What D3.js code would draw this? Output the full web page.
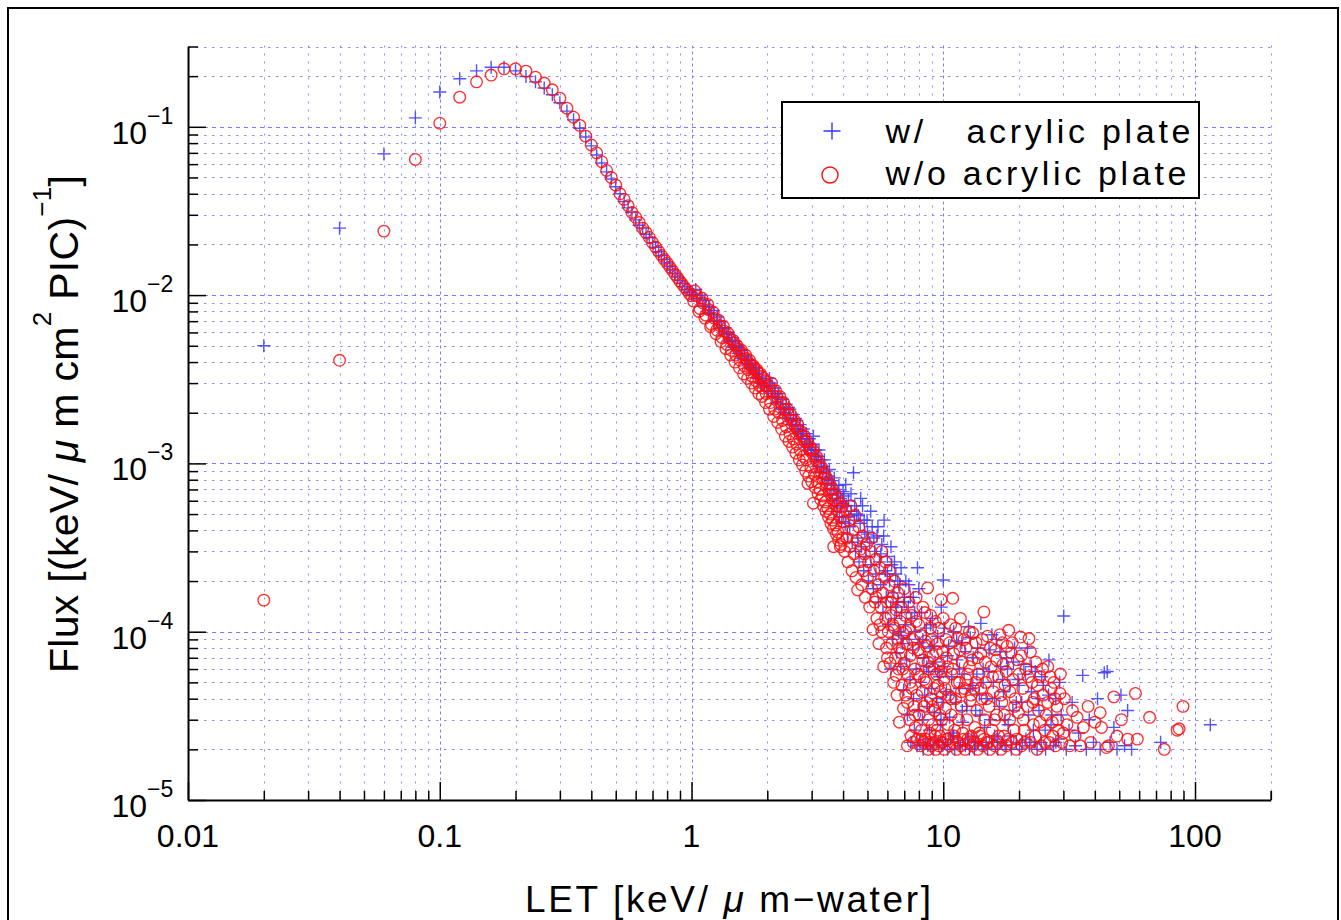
<!DOCTYPE html>
<html>
<head>
<meta charset="utf-8">
<script src="https://cdnjs.cloudflare.com/ajax/libs/d3/7.8.5/d3.min.js"></script>
<style>
    body { margin: 0; background: #fff; }
    svg { display: block; }
    text { font-family: "Liberation Sans", Arial, sans-serif; fill: #000; }
</style>
</head>
<body>
<div id="chart"></div>
<script>
// LET [keV/um-water], flux pairs

// w/ acrylic plate (blue +)
const blueRise = [
    [0.02, 5.0e-3], [0.04, 0.025], [0.06, 0.069], [0.08, 0.113], [0.10, 0.161],
    [0.12, 0.193], [0.14, 0.215], [0.16, 0.226], [0.18, 0.226], [0.20, 0.215],
    [0.22, 0.199], [0.24, 0.185], [0.26, 0.170], [0.28, 0.155], [0.30, 0.139],
    [0.32, 0.124], [0.34, 0.110], [0.36, 0.098], [0.38, 0.087], [0.40, 0.077],
    [0.42, 0.068], [0.44, 0.061], [0.46, 0.054], [0.48, 0.049], [0.50, 0.044],
    [0.52, 0.040], [0.54, 0.036], [0.56, 0.033], [0.58, 0.031], [0.60, 0.028],
    [0.62, 0.026], [0.64, 0.025], [0.66, 0.023], [0.68, 0.022], [0.70, 0.0205],
    [0.72, 0.0192], [0.74, 0.0181], [0.76, 0.0172], [0.78, 0.0163], [0.80, 0.0155],
    [0.82, 0.0148], [0.84, 0.0141], [0.86, 0.0134], [0.88, 0.0128], [0.90, 0.0122],
    [0.92, 0.0117], [0.94, 0.0112], [0.96, 0.0108], [0.98, 0.0104], [1.00, 0.0100]
];

const blueBand = [
    [1.02, 1.01e-2], [1.05, 9.6e-3], [1.08, 9.5e-3], [1.11, 8.6e-3], [1.14, 8.6e-3],
    [1.17, 7.8e-3], [1.20, 7.7e-3], [1.23, 7.0e-3], [1.26, 7.0e-3], [1.29, 6.3e-3],
    [1.32, 6.4e-3], [1.35, 5.8e-3], [1.38, 5.9e-3], [1.41, 5.3e-3], [1.44, 5.4e-3],
    [1.47, 4.9e-3], [1.50, 5.0e-3], [1.53, 4.5e-3], [1.56, 4.7e-3], [1.59, 4.2e-3],
    [1.62, 4.4e-3], [1.65, 3.9e-3], [1.68, 4.1e-3], [1.71, 3.7e-3], [1.74, 3.9e-3],
    [1.77, 3.4e-3], [1.80, 3.7e-3], [1.83, 3.2e-3], [1.86, 3.5e-3], [1.89, 3.0e-3],
    [1.92, 3.3e-3], [1.95, 2.9e-3], [1.98, 3.1e-3],
    [2.02, 2.7e-3], [2.06, 3.0e-3], [2.10, 2.5e-3], [2.14, 2.8e-3], [2.18, 2.3e-3],
    [2.22, 2.6e-3], [2.26, 2.1e-3], [2.30, 2.4e-3], [2.34, 2.0e-3], [2.38, 2.25e-3],
    [2.42, 1.85e-3], [2.46, 2.1e-3], [2.50, 1.7e-3], [2.54, 1.95e-3], [2.58, 1.6e-3],
    [2.62, 1.8e-3], [2.66, 1.5e-3], [2.70, 1.7e-3], [2.74, 1.4e-3], [2.78, 1.6e-3],
    [2.82, 1.3e-3], [2.86, 1.5e-3], [2.90, 1.2e-3], [2.94, 1.4e-3], [2.98, 1.15e-3],
    [3.03, 1.3e-3], [3.07, 1.05e-3], [3.11, 1.2e-3], [3.15, 9.6e-4], [3.19, 1.1e-3],
    [3.23, 8.8e-4], [3.27, 1.05e-3], [3.31, 8.2e-4], [3.35, 9.6e-4], [3.39, 7.6e-4],
    [3.43, 9.0e-4], [3.47, 7.0e-4], [3.51, 8.4e-4], [3.55, 6.5e-4], [3.59, 7.9e-4],
    [3.63, 6.0e-4], [3.67, 7.4e-4], [3.71, 5.6e-4], [3.75, 7.0e-4], [3.79, 5.2e-4],
    [3.83, 6.6e-4], [3.87, 4.8e-4], [3.91, 6.2e-4], [3.95, 4.5e-4], [3.99, 5.8e-4],
    [4.03, 6.4e-4], [4.08, 4.4e-4], [4.12, 5.6e-4], [4.16, 3.8e-4], [4.20, 6.0e-4],
    [4.25, 4.2e-4], [4.30, 5.2e-4], [4.35, 3.4e-4], [4.40, 8.8e-4], [4.44, 4.6e-4],
    [4.48, 3.0e-4], [4.53, 5.0e-4], [4.58, 3.6e-4], [4.63, 2.6e-4], [4.68, 4.4e-4],
    [4.73, 3.2e-4], [4.78, 5.6e-4], [4.83, 2.3e-4], [4.88, 3.9e-4], [4.93, 2.8e-4],
    [4.98, 4.6e-4], [5.04, 2.0e-4], [5.10, 3.4e-4], [5.16, 2.5e-4], [5.22, 4.2e-4],
    [5.28, 1.8e-4], [5.34, 3.0e-4], [5.40, 2.2e-4], [5.46, 3.7e-4], [5.52, 1.5e-4],
    [5.58, 2.6e-4], [5.64, 1.9e-4], [5.70, 3.3e-4], [5.76, 1.3e-4], [5.82, 4.6e-4],
    [5.88, 2.3e-4], [5.94, 1.6e-4], [6.00, 2.8e-4], [6.06, 1.1e-4], [6.12, 2.0e-4],
    [6.18, 1.4e-4], [6.24, 2.5e-4], [6.30, 9.0e-5], [6.36, 1.7e-4], [6.42, 1.2e-4],
    [6.48, 2.2e-4], [6.54, 7.5e-5], [6.60, 1.5e-4], [6.66, 1.0e-4], [6.72, 1.9e-4],
    [6.78, 6.2e-5], [6.84, 1.3e-4], [6.90, 8.5e-5], [6.96, 4.5e-5], [7.02, 1.6e-4],
    [7.08, 1.1e-4], [7.14, 6.8e-5], [7.20, 3.2e-5], [7.26, 1.4e-4], [7.32, 9.0e-5],
    [7.38, 5.2e-5], [7.44, 2.2e-5], [7.50, 1.2e-4], [7.56, 7.8e-5], [7.62, 4.0e-5],
    [7.68, 2.6e-5], [7.74, 1.0e-4], [7.80, 6.0e-5], [7.86, 2.1e-5], [7.90, 2.4e-4],
    [7.95, 3.4e-5]
];

// upper side of the blue band, where the + marks stick out
const blueBandEdge = [
    [1.04, 1.08e-2], [1.09, 1.0e-2], [1.13, 9.3e-3], [1.18, 8.5e-3], [1.22, 8.1e-3],
    [1.27, 7.4e-3], [1.31, 7.0e-3], [1.36, 6.4e-3], [1.40, 6.0e-3], [1.45, 5.6e-3],
    [1.49, 5.3e-3], [1.54, 4.9e-3], [1.58, 4.7e-3], [1.63, 4.3e-3], [1.67, 4.1e-3],
    [1.72, 3.8e-3], [1.76, 3.6e-3], [1.81, 3.4e-3], [1.85, 3.2e-3], [1.90, 3.0e-3],
    [1.94, 2.85e-3], [1.99, 2.7e-3], [2.04, 3.2e-3], [2.09, 2.9e-3], [2.15, 2.6e-3],
    [2.20, 2.45e-3], [2.26, 2.25e-3], [2.31, 2.1e-3], [2.37, 1.95e-3], [2.43, 2.15e-3],
    [2.48, 1.8e-3], [2.53, 1.7e-3], [2.59, 1.85e-3], [2.65, 1.55e-3], [2.71, 1.45e-3],
    [2.76, 1.55e-3], [2.81, 1.25e-3], [2.87, 1.4e-3], [2.93, 1.3e-3], [2.99, 1.25e-3],
    [3.05, 1.45e-3], [3.13, 1.1e-3], [3.21, 1.2e-3], [3.29, 9.5e-4], [3.37, 1.05e-3],
    [3.45, 8.0e-4], [3.53, 9.2e-4], [3.61, 7.0e-4], [3.69, 8.2e-4], [3.77, 6.2e-4],
    [3.85, 7.4e-4], [3.93, 5.5e-4], [4.00, 6.8e-4], [4.10, 7.5e-4], [4.20, 4.8e-4],
    [4.30, 6.6e-4], [4.45, 5.6e-4], [4.60, 4.9e-4], [4.70, 6.2e-4], [4.85, 4.6e-4],
    [5.00, 3.8e-4], [5.15, 5.2e-4], [5.30, 3.6e-4], [5.50, 4.2e-4], [5.65, 2.9e-4],
    [5.80, 3.7e-4], [6.00, 2.2e-4], [6.20, 3.2e-4], [6.40, 2.6e-4], [6.60, 2.0e-4],
    [6.80, 2.4e-4], [7.00, 1.5e-4], [7.30, 1.9e-4], [7.60, 1.6e-4]
];

const blueTail = [
    [8.02, 8.6e-5], [8.08, 2.2e-5], [8.14, 5.0e-5], [8.20, 1.3e-4], [8.26, 3.0e-5],
    [8.32, 2.0e-5], [8.38, 7.0e-5], [8.44, 4.2e-5], [8.50, 2.3e-5], [8.56, 1.05e-4],
    [8.62, 3.6e-5], [8.68, 2.1e-5], [8.74, 5.8e-5], [8.80, 2.6e-5], [8.86, 8.0e-5],
    [8.92, 2.1e-5], [8.98, 4.6e-5], [9.05, 1.2e-4], [9.12, 2.0e-5], [9.20, 3.3e-5],
    [9.28, 6.6e-5], [9.35, 2.3e-5], [9.42, 4.0e-5], [9.50, 9.4e-5], [9.58, 2.2e-5],
    [9.66, 5.4e-5], [9.74, 2.8e-5], [9.82, 1.4e-4], [9.90, 3.8e-5], [9.96, 2.1e-5],
    [10.0, 2.03e-4], [10.1, 6.2e-5], [10.2, 2.2e-5], [10.3, 4.4e-5], [10.4, 2.0e-5],
    [10.5, 8.2e-5], [10.6, 3.1e-5], [10.7, 2.3e-5], [10.8, 5.4e-5], [10.9, 2.5e-5],
    [11.0, 1.0e-4], [11.1, 2.0e-5], [11.2, 3.8e-5], [11.35, 6.8e-5], [11.45, 2.2e-5],
    [11.6, 4.6e-5], [11.7, 2.1e-5], [11.85, 8.6e-5], [11.95, 2.9e-5], [12.1, 5.6e-5],
    [12.25, 2.1e-5], [12.4, 3.6e-5], [12.6, 1.07e-4], [12.7, 2.0e-5], [12.85, 4.6e-5],
    [13.0, 2.4e-5], [13.15, 7.0e-5], [13.3, 2.0e-5], [13.45, 3.4e-5], [13.6, 5.6e-5],
    [13.75, 2.2e-5], [13.9, 4.2e-5], [14.1, 1.12e-4], [14.25, 2.1e-5], [14.4, 6.0e-5],
    [14.6, 2.7e-5], [14.8, 4.0e-5], [15.0, 2.0e-5], [15.2, 7.8e-5], [15.4, 3.0e-5],
    [15.6, 2.2e-5], [15.8, 5.0e-5], [16.0, 2.4e-5], [16.25, 9.0e-5], [16.45, 2.0e-5],
    [16.7, 3.6e-5], [16.9, 6.2e-5], [17.1, 2.2e-5], [17.35, 4.4e-5], [17.6, 2.1e-5],
    [17.85, 7.0e-5], [18.1, 2.8e-5], [18.4, 4.8e-5], [18.65, 2.0e-5], [18.9, 3.4e-5],
    [19.2, 8.0e-5], [19.5, 2.2e-5], [19.8, 5.2e-5], [20.1, 2.0e-5], [20.5, 3.8e-5],
    [20.9, 6.4e-5], [21.3, 2.3e-5], [21.6, 8.0e-5], [22.0, 2.1e-5], [22.4, 4.4e-5],
    [22.8, 2.6e-5], [23.2, 5.8e-5], [23.6, 2.0e-5], [24.0, 3.4e-5], [24.5, 2.2e-5],
    [25.0, 4.8e-5], [25.5, 2.0e-5], [26.3, 6.8e-5], [26.8, 2.8e-5], [27.4, 2.1e-5],
    [28.0, 4.0e-5], [28.7, 2.3e-5], [29.4, 3.2e-5], [30.1, 1.24e-4], [30.8, 2.0e-5],
    [31.6, 2.6e-5], [32.5, 3.8e-5], [33.5, 2.1e-5], [34.5, 2.5e-5], [35.8, 5.5e-5],
    [37.0, 2.0e-5], [38.0, 3.0e-5], [39.5, 2.2e-5], [41.0, 4.0e-5], [42.0, 2.0e-5],
    [43.6, 5.7e-5], [44.8, 5.8e-5], [46.0, 2.2e-5], [47.6, 2.7e-5], [49.0, 2.0e-5],
    [50.8, 4.2e-5], [52.5, 2.1e-5], [54.0, 3.4e-5], [56.0, 2.0e-5], [73.0, 2.2e-5],
    [115.0, 2.8e-5]
];

// extra blue marks filling the cloud at 6-30
const blueCloud = [
    [6.2, 6.0e-5], [6.5, 1.4e-4], [6.8, 9.5e-5], [7.1, 2.0e-4], [7.4, 1.6e-4],
    [7.7, 1.3e-4], [8.0, 1.8e-4], [8.3, 9.0e-5], [8.6, 6.2e-5], [8.9, 1.1e-4],
    [9.2, 8.2e-5], [9.5, 5.8e-5], [9.8, 3.0e-5], [10.1, 1.05e-4], [10.4, 7.2e-5],
    [10.7, 4.2e-5], [11.0, 2.4e-5], [11.3, 8.8e-5], [11.6, 6.0e-5], [11.9, 3.4e-5],
    [12.2, 7.6e-5], [12.5, 2.3e-5], [12.8, 9.2e-5], [13.1, 4.8e-5], [13.4, 2.2e-5],
    [13.7, 8.0e-5], [14.0, 3.2e-5], [14.4, 5.0e-5], [14.8, 2.2e-5], [15.2, 5.8e-5],
    [15.6, 9.6e-5], [16.0, 4.0e-5], [16.4, 2.3e-5], [16.8, 7.6e-5], [17.2, 5.2e-5],
    [17.6, 3.0e-5], [18.0, 6.0e-5], [18.5, 2.4e-5], [19.0, 6.6e-5], [19.5, 3.8e-5],
    [20.0, 4.8e-5], [20.6, 2.2e-5], [21.2, 5.6e-5], [21.8, 3.2e-5], [22.4, 6.2e-5],
    [23.0, 2.2e-5], [23.8, 4.0e-5], [24.6, 5.4e-5], [25.4, 2.6e-5], [26.2, 4.2e-5],
    [27.0, 3.2e-5], [28.0, 2.2e-5], [29.0, 5.0e-5]
];

// w/o acrylic plate (red o)
const redRise = [
    [0.02, 1.54e-4], [0.04, 4.1e-3], [0.06, 0.024], [0.08, 0.064], [0.10, 0.105],
    [0.12, 0.150], [0.14, 0.185], [0.16, 0.203], [0.18, 0.221], [0.20, 0.221],
    [0.22, 0.214], [0.24, 0.197], [0.26, 0.182], [0.28, 0.166], [0.30, 0.148],
    [0.32, 0.129], [0.34, 0.114], [0.36, 0.102], [0.38, 0.088], [0.40, 0.078],
    [0.42, 0.070], [0.44, 0.062], [0.46, 0.055], [0.48, 0.050], [0.50, 0.045],
    [0.52, 0.040], [0.54, 0.037], [0.56, 0.034], [0.58, 0.031], [0.60, 0.029],
    [0.62, 0.027], [0.64, 0.025], [0.66, 0.0235], [0.68, 0.022], [0.70, 0.0205],
    [0.72, 0.0193], [0.74, 0.0182], [0.76, 0.0172], [0.78, 0.0163], [0.80, 0.0155],
    [0.82, 0.0147], [0.84, 0.0140], [0.86, 0.0133], [0.88, 0.0127], [0.90, 0.0121],
    [0.92, 0.0116], [0.94, 0.0111], [0.96, 0.0107], [0.98, 0.0102], [1.00, 0.0099]
];

const redBand = [
    [1.02, 9.2e-3], [1.05, 9.9e-3], [1.08, 8.3e-3], [1.11, 9.0e-3], [1.14, 7.6e-3],
    [1.17, 8.2e-3], [1.20, 6.7e-3], [1.23, 7.3e-3], [1.26, 6.2e-3], [1.29, 6.6e-3],
    [1.32, 5.6e-3], [1.35, 6.1e-3], [1.38, 5.1e-3], [1.41, 5.6e-3], [1.44, 4.7e-3],
    [1.47, 5.2e-3], [1.50, 4.4e-3], [1.53, 4.8e-3], [1.56, 4.1e-3], [1.59, 4.5e-3],
    [1.62, 3.8e-3], [1.65, 4.2e-3], [1.68, 3.6e-3], [1.71, 3.9e-3], [1.74, 3.3e-3],
    [1.77, 3.7e-3], [1.80, 3.1e-3], [1.83, 3.5e-3], [1.86, 2.9e-3], [1.89, 3.3e-3],
    [1.92, 2.8e-3], [1.95, 3.1e-3], [1.98, 2.6e-3],
    [2.02, 2.9e-3], [2.06, 2.3e-3], [2.10, 2.7e-3], [2.14, 2.1e-3], [2.18, 2.5e-3],
    [2.22, 2.0e-3], [2.26, 2.3e-3], [2.30, 1.8e-3], [2.34, 2.1e-3], [2.38, 1.65e-3],
    [2.42, 1.95e-3], [2.46, 1.5e-3], [2.50, 1.8e-3], [2.54, 1.4e-3], [2.58, 1.65e-3],
    [2.62, 1.3e-3], [2.66, 1.55e-3], [2.70, 1.2e-3], [2.74, 1.45e-3], [2.78, 1.1e-3],
    [2.82, 1.35e-3], [2.86, 1.05e-3], [2.90, 7.6e-4], [2.94, 1.2e-3], [2.98, 9.5e-4],
    [3.02, 1.15e-3], [3.05, 5.8e-4], [3.08, 8.6e-4], [3.12, 1.05e-3], [3.16, 7.8e-4],
    [3.20, 9.6e-4], [3.24, 7.0e-4], [3.28, 8.8e-4], [3.32, 6.4e-4], [3.36, 8.2e-4],
    [3.40, 5.9e-4], [3.44, 7.6e-4], [3.48, 5.4e-4], [3.52, 7.0e-4], [3.56, 5.0e-4],
    [3.60, 6.5e-4], [3.64, 4.6e-4], [3.67, 3.2e-4], [3.70, 6.0e-4], [3.74, 4.3e-4],
    [3.78, 5.6e-4], [3.82, 3.9e-4], [3.86, 5.2e-4], [3.90, 3.2e-4], [3.94, 4.8e-4],
    [3.98, 3.6e-4],
    [4.02, 4.5e-4], [4.06, 3.0e-4], [4.10, 5.3e-4], [4.14, 3.6e-4], [4.18, 2.6e-4],
    [4.22, 4.6e-4], [4.26, 3.2e-4], [4.30, 5.6e-4], [4.34, 2.3e-4], [4.38, 4.0e-4],
    [4.42, 2.9e-4], [4.46, 4.9e-4], [4.50, 2.1e-4], [4.54, 3.5e-4], [4.57, 1.77e-4],
    [4.62, 4.2e-4], [4.66, 2.6e-4], [4.70, 3.1e-4], [4.74, 1.9e-4], [4.78, 3.7e-4],
    [4.82, 2.3e-4], [4.86, 2.9e-4], [4.90, 1.6e-4], [4.95, 3.3e-4], [5.00, 2.1e-4],
    [5.05, 2.6e-4], [5.10, 1.4e-4], [5.15, 3.0e-4], [5.20, 1.8e-4], [5.26, 1.03e-4],
    [5.30, 2.3e-4], [5.35, 1.5e-4], [5.40, 2.7e-4], [5.45, 1.2e-4], [5.50, 1.9e-4],
    [5.55, 8.5e-5], [5.60, 2.4e-4], [5.65, 1.4e-4], [5.70, 1.0e-4], [5.75, 1.7e-4],
    [5.80, 6.2e-5], [5.85, 2.1e-4], [5.90, 1.2e-4], [5.95, 8.0e-5], [6.00, 1.5e-4],
    [6.05, 1.0e-4], [6.10, 1.9e-4], [6.15, 6.5e-5], [6.20, 1.25e-4], [6.25, 8.5e-5],
    [6.30, 1.6e-4], [6.35, 5.0e-5], [6.40, 1.05e-4], [6.45, 7.0e-5], [6.50, 1.35e-4],
    [6.55, 4.2e-5], [6.60, 9.0e-5], [6.65, 6.0e-5], [6.70, 2.9e-5], [6.75, 1.15e-4],
    [6.80, 7.5e-5], [6.85, 4.8e-5], [6.90, 9.8e-5], [6.95, 3.5e-5], [7.00, 6.5e-5],
    [7.05, 1.25e-4], [7.10, 4.2e-5], [7.15, 8.5e-5], [7.20, 2.1e-5], [7.25, 5.5e-5],
    [7.30, 1.05e-4], [7.35, 3.0e-5], [7.40, 7.2e-5], [7.45, 2.4e-5], [7.50, 4.6e-5],
    [7.55, 9.0e-5], [7.60, 2.2e-5], [7.65, 3.6e-5], [7.70, 6.0e-5], [7.75, 2.7e-5],
    [7.80, 1.15e-4], [7.85, 4.2e-5], [7.90, 2.3e-5], [7.95, 7.8e-5]
];

// second row of red circles widening the band at 1-4
const redBandSpread = [
    [1.03, 1.06e-2], [1.07, 8.0e-3], [1.10, 9.6e-3], [1.13, 7.3e-3], [1.16, 8.8e-3],
    [1.19, 6.5e-3], [1.22, 7.9e-3], [1.25, 5.9e-3], [1.28, 7.1e-3], [1.31, 5.3e-3],
    [1.34, 6.5e-3], [1.37, 4.8e-3], [1.40, 5.9e-3], [1.43, 4.4e-3], [1.46, 5.4e-3],
    [1.49, 4.0e-3], [1.52, 5.0e-3], [1.55, 3.7e-3], [1.58, 4.7e-3], [1.61, 3.4e-3],
    [1.64, 4.4e-3], [1.67, 3.2e-3], [1.70, 4.1e-3], [1.73, 3.0e-3], [1.76, 3.8e-3],
    [1.79, 2.8e-3], [1.82, 3.6e-3], [1.85, 2.6e-3], [1.88, 3.4e-3], [1.91, 2.5e-3],
    [1.94, 3.2e-3], [1.97, 2.3e-3], [2.04, 2.1e-3], [2.08, 3.0e-3], [2.12, 1.9e-3],
    [2.16, 2.7e-3], [2.20, 1.75e-3], [2.24, 2.5e-3], [2.28, 1.6e-3], [2.32, 2.3e-3],
    [2.36, 1.45e-3], [2.40, 2.1e-3], [2.44, 1.35e-3], [2.48, 1.95e-3], [2.52, 1.25e-3],
    [2.56, 1.8e-3], [2.60, 1.15e-3], [2.64, 1.7e-3], [2.68, 1.05e-3], [2.72, 1.55e-3],
    [2.76, 9.8e-4], [2.80, 1.45e-3], [2.84, 9.0e-4], [2.88, 1.35e-3], [2.92, 8.4e-4],
    [2.96, 1.25e-3], [3.00, 7.8e-4], [3.04, 1.2e-3], [3.10, 7.2e-4], [3.14, 1.1e-3],
    [3.18, 6.6e-4], [3.22, 1.0e-3], [3.26, 6.1e-4], [3.30, 9.4e-4], [3.34, 5.6e-4],
    [3.38, 8.7e-4], [3.42, 5.2e-4], [3.46, 8.1e-4], [3.50, 4.8e-4], [3.54, 7.6e-4],
    [3.58, 4.4e-4], [3.62, 7.1e-4], [3.66, 4.1e-4], [3.72, 6.6e-4], [3.76, 3.8e-4],
    [3.80, 6.2e-4], [3.84, 3.5e-4], [3.88, 5.8e-4], [3.92, 3.3e-4], [3.96, 5.5e-4]
];

const redTail = [
    [8.02, 3.2e-5], [8.06, 5.4e-5], [8.10, 2.1e-5], [8.15, 9.5e-5], [8.20, 2.6e-5],
    [8.25, 4.4e-5], [8.30, 6.8e-5], [8.35, 2.2e-5], [8.40, 3.6e-5], [8.45, 1.3e-4],
    [8.50, 2.3e-5], [8.55, 5.0e-5], [8.60, 8.2e-5], [8.67, 1.82e-4], [8.70, 2.0e-5],
    [8.75, 3.0e-5], [8.80, 6.0e-5], [8.85, 2.5e-5], [8.90, 1.05e-4], [8.95, 4.0e-5],
    [9.00, 2.1e-5], [9.05, 2.8e-5], [9.10, 7.2e-5], [9.15, 2.2e-5], [9.20, 4.6e-5],
    [9.25, 3.4e-5], [9.30, 1.15e-4], [9.35, 2.0e-5], [9.40, 5.6e-5], [9.45, 2.6e-5],
    [9.50, 8.5e-5], [9.55, 3.8e-5], [9.60, 2.1e-5], [9.65, 6.4e-5], [9.70, 2.4e-5],
    [9.75, 4.4e-5], [9.80, 1.55e-4], [9.85, 3.0e-5], [9.90, 2.2e-5], [9.95, 7.6e-5],
    [10.05, 5.2e-5], [10.1, 2.0e-5], [10.2, 3.5e-5], [10.25, 9.0e-5], [10.3, 2.3e-5],
    [10.4, 6.2e-5], [10.45, 2.8e-5], [10.5, 4.2e-5], [10.6, 2.1e-5], [10.7, 1.1e-4],
    [10.75, 3.2e-5], [10.8, 5.6e-5], [10.9, 1.58e-4], [10.95, 2.2e-5], [11.0, 7.4e-5],
    [11.1, 2.6e-5], [11.2, 4.0e-5], [11.3, 2.0e-5], [11.4, 9.2e-5], [11.5, 3.0e-5],
    [11.6, 5.0e-5], [11.7, 1.2e-4], [11.75, 2.1e-5], [11.8, 3.6e-5], [11.9, 6.6e-5],
    [12.0, 2.3e-5], [12.1, 4.6e-5], [12.2, 2.0e-5], [12.3, 8.0e-5], [12.4, 3.0e-5],
    [12.5, 5.6e-5], [12.6, 2.2e-5], [12.7, 1.0e-4], [12.8, 3.9e-5], [12.9, 2.4e-5],
    [13.0, 6.8e-5], [13.1, 2.1e-5], [13.2, 4.6e-5], [13.35, 2.7e-5], [13.5, 8.6e-5],
    [13.6, 3.4e-5], [13.7, 2.0e-5], [13.85, 5.6e-5], [14.0, 2.4e-5], [14.1, 7.4e-5],
    [14.25, 4.0e-5], [14.35, 2.1e-5], [14.5, 1.31e-4], [14.6, 3.0e-5], [14.75, 5.0e-5],
    [14.9, 2.2e-5], [15.0, 9.4e-5], [15.2, 3.6e-5], [15.3, 2.0e-5], [15.5, 6.2e-5],
    [15.65, 2.6e-5], [15.8, 4.4e-5], [16.0, 2.1e-5], [16.15, 7.8e-5], [16.3, 3.2e-5],
    [16.5, 2.2e-5], [16.6, 5.4e-5], [16.8, 9.6e-5], [16.95, 2.0e-5], [17.1, 3.8e-5],
    [17.3, 6.4e-5], [17.45, 2.4e-5], [17.6, 4.8e-5], [17.8, 2.1e-5], [17.95, 8.2e-5],
    [18.2, 1.02e-4], [18.35, 3.0e-5], [18.6, 7.5e-5], [18.75, 2.2e-5], [18.9, 5.2e-5],
    [19.1, 2.6e-5], [19.3, 4.0e-5], [19.5, 2.0e-5], [19.7, 6.8e-5], [19.9, 3.3e-5],
    [20.3, 9.3e-5], [20.5, 2.1e-5], [20.7, 4.6e-5], [21.0, 2.6e-5], [21.3, 6.0e-5],
    [21.6, 3.6e-5], [21.9, 9.1e-5], [22.2, 2.2e-5], [22.5, 5.0e-5], [22.8, 2.8e-5],
    [23.0, 4.0e-5], [23.3, 6.6e-5], [23.6, 2.0e-5], [23.9, 3.4e-5], [24.2, 5.4e-5],
    [24.5, 2.1e-5], [24.9, 4.2e-5], [25.3, 2.6e-5], [25.6, 3.2e-5], [26.0, 6.2e-5],
    [26.4, 2.2e-5], [26.8, 4.6e-5], [27.1, 2.9e-5], [27.5, 5.0e-5], [27.9, 2.1e-5],
    [28.3, 3.6e-5], [28.7, 2.6e-5], [29.1, 4.3e-5], [29.6, 2.2e-5], [30.3, 4.0e-5],
    [31.0, 2.8e-5], [31.8, 2.1e-5], [32.6, 3.4e-5], [33.4, 2.4e-5], [34.0, 3.1e-5],
    [35.0, 2.1e-5], [36.0, 2.7e-5], [37.6, 3.6e-5], [38.5, 2.2e-5], [40.0, 2.9e-5],
    [42.0, 3.3e-5], [42.5, 2.7e-5], [44.5, 2.05e-5], [45.3, 2.1e-5], [47.6, 4.1e-5],
    [49.0, 2.4e-5], [51.0, 3.0e-5], [54.0, 2.3e-5], [58.0, 4.3e-5], [59.0, 2.3e-5],
    [66.0, 3.1e-5], [75.5, 2.0e-5], [85.0, 2.6e-5], [86.5, 2.65e-5], [89.6, 3.6e-5]
];

// extra red circles filling the cloud at 5-30
const redCloud = [
    [5.2, 3.6e-4], [5.4, 1.6e-4], [5.6, 1.1e-4], [5.7, 3.0e-4], [5.9, 2.6e-4],
    [6.0, 7.0e-5], [6.1, 2.3e-4], [6.2, 1.5e-4], [6.3, 1.1e-4], [6.4, 2.0e-4],
    [6.5, 5.5e-5], [6.6, 1.7e-4], [6.7, 8.0e-5], [6.8, 1.4e-4], [6.9, 6.0e-5],
    [7.0, 1.8e-4], [7.1, 1.0e-4], [7.2, 3.8e-5], [7.3, 1.5e-4], [7.4, 5.0e-5],
    [7.5, 1.25e-4], [7.6, 8.0e-5], [7.7, 3.2e-5], [7.8, 1.6e-4], [7.9, 5.6e-5],
    [8.0, 1.1e-4], [8.1, 7.5e-5], [8.2, 2.3e-5], [8.3, 1.4e-4], [8.4, 5.2e-5],
    [8.5, 8.8e-5], [8.6, 3.8e-5], [8.7, 6.6e-5], [8.8, 2.2e-5], [8.9, 1.25e-4],
    [9.0, 9.0e-5], [9.1, 3.6e-5], [9.2, 6.0e-5], [9.3, 2.4e-5], [9.4, 7.6e-5],
    [9.5, 4.8e-5], [9.6, 1.05e-4], [9.7, 3.2e-5], [9.8, 5.8e-5], [9.9, 2.2e-5],
    [10.0, 1.2e-4], [10.15, 4.6e-5], [10.3, 7.0e-5], [10.45, 2.3e-5], [10.6, 8.6e-5],
    [10.75, 4.0e-5], [10.9, 6.0e-5], [11.05, 2.4e-5], [11.2, 1.05e-4], [11.35, 5.0e-5],
    [11.5, 2.2e-5], [11.65, 7.8e-5], [11.8, 4.4e-5], [11.95, 2.5e-5], [12.1, 9.0e-5],
    [12.3, 5.2e-5], [12.5, 2.3e-5], [12.7, 6.2e-5], [12.9, 4.2e-5], [13.1, 9.8e-5],
    [13.3, 2.2e-5], [13.5, 5.0e-5], [13.7, 7.0e-5], [13.9, 2.5e-5], [14.1, 4.6e-5],
    [14.3, 9.0e-5], [14.5, 2.3e-5], [14.7, 6.6e-5], [14.9, 4.0e-5], [15.1, 2.2e-5],
    [15.4, 8.0e-5], [15.7, 5.4e-5], [16.0, 3.0e-5], [16.3, 6.8e-5], [16.6, 2.4e-5],
    [16.9, 4.2e-5], [17.2, 8.6e-5], [17.5, 3.2e-5], [17.8, 5.8e-5], [18.1, 2.3e-5],
    [18.4, 4.4e-5], [18.8, 8.6e-5], [19.2, 3.6e-5], [19.6, 2.3e-5], [20.0, 5.6e-5],
    [20.4, 7.2e-5], [20.8, 3.0e-5], [21.2, 2.2e-5], [21.7, 5.4e-5], [22.2, 7.6e-5],
    [22.7, 3.8e-5], [23.2, 2.4e-5], [23.7, 4.8e-5], [24.2, 2.9e-5], [24.8, 6.0e-5],
    [25.4, 2.2e-5], [26.0, 3.8e-5], [26.6, 5.4e-5], [27.2, 2.4e-5], [27.8, 4.0e-5],
    [28.5, 3.0e-5], [29.2, 5.6e-5], [30.0, 2.5e-5]
];

const seriesNames = ["w/   acrylic plate", "w/o acrylic plate"];
const xTickLabels = ["0.01", "0.1", "1", "10", "100"];
const yTickExponents = [-5, -4, -3, -2, -1];

const blueData = blueRise.concat(blueBand, blueBandEdge, blueTail, blueCloud);
const redData = redRise.concat(redBand, redBandSpread, redTail, redCloud);

const width = 1341;
const height = 920;
const plot = { left: 188, right: 1270.8, top: 46.5, bottom: 800 };

const blue = "#3535ff";
const red = "#ff0d0d";
const gridMajor = "#7a7aff";
const gridMinor = "#8c8cff";

const svg = d3.select("#chart")
    .append("svg")
    .attr("width", width)
    .attr("height", height);

// Outer frame
svg.append("rect")
    .attr("x", 8)
    .attr("y", 8)
    .attr("width", 1330)
    .attr("height", 940)
    .attr("fill", "#fff")
    .attr("stroke", "#000")
    .attr("stroke-width", 2);

const x = d3.scaleLog().domain([0.01, 200]).range([plot.left, plot.right]);
const y = d3.scaleLog().domain([1e-5, 0.3]).range([plot.bottom, plot.top]);

const isMajor = v => Math.abs(Math.log10(v) - Math.round(Math.log10(v))) < 1e-6;
const xTicks = x.ticks();
const yTicks = y.ticks();

// Grid lines (dotted blue, denser on decades)
const grid = svg.append("g");
grid.selectAll(".gx")
    .data(xTicks.filter(v => v > 0.01))
    .enter()
    .append("line")
    .attr("x1", d => Math.round(x(d)) + 0.5).attr("x2", d => Math.round(x(d)) + 0.5)
    .attr("y1", plot.top - 1).attr("y2", plot.bottom)
    .attr("stroke", d => isMajor(d) ? gridMajor : gridMinor)
    .attr("stroke-width", 1)
    .attr("stroke-dasharray", d => isMajor(d) ? "3,3" : "2,6");

grid.selectAll(".gy")
    .data(yTicks.filter(v => v > 1e-5))
    .enter()
    .append("line")
    .attr("y1", d => Math.round(y(d)) + 0.5).attr("y2", d => Math.round(y(d)) + 0.5)
    .attr("x1", plot.left).attr("x2", plot.right)
    .attr("stroke", d => isMajor(d) ? gridMajor : gridMinor)
    .attr("stroke-width", 1)
    .attr("stroke-dasharray", d => isMajor(d) ? "4,4" : "2.5,5.5");

// Markers: blue plus first, red circles on top
const marks = svg.append("g");
marks.selectAll(".plus")
    .data(blueData)
    .enter()
    .append("path")
    .attr("transform", d => `translate(${x(d[0])},${y(d[1])})`)
    .attr("d", "M-6.5,0H6.5M0,-6.5V6.5")
    .attr("fill", "none")
    .attr("stroke", blue)
    .attr("stroke-opacity", 0.85)
    .attr("stroke-width", 1.4);

marks.selectAll(".ring")
    .data(redData)
    .enter()
    .append("circle")
    .attr("cx", d => x(d[0]))
    .attr("cy", d => y(d[1]))
    .attr("r", 5.8)
    .attr("fill", "none")
    .attr("stroke", red)
    .attr("stroke-opacity", 0.85)
    .attr("stroke-width", 1.35);

// Axes, ticks pointing inward
const xAxis = svg.append("g")
    .attr("transform", `translate(0,${plot.bottom})`)
    .call(d3.axisBottom(x).tickValues(xTicks.concat([200])).tickSize(-9).tickSizeOuter(0).tickFormat(""));
xAxis.selectAll(".tick line")
    .attr("y2", d => isMajor(d) ? -18 : -9)
    .attr("stroke-width", 1.5);

const yAxis = svg.append("g")
    .attr("transform", `translate(${plot.left},0)`)
    .call(d3.axisLeft(y).tickValues(yTicks).tickSize(-10).tickSizeOuter(0).tickFormat(""));
yAxis.selectAll(".tick line")
    .attr("x2", d => isMajor(d) ? 18 : 10)
    .attr("stroke-width", 1.5);

svg.selectAll(".domain").attr("stroke", "#000").attr("stroke-width", 2);

// Spread a text's letters so that it spans the target width
function fitText(sel, target) {
    const node = sel.node();
    const natural = node.getComputedTextLength();
    const chars = node.textContent.length;
    if (chars > 1) sel.style("letter-spacing", ((target - natural) / (chars - 1)) + "px");
}

// X tick labels
xTickLabels.forEach(label => {
    svg.append("text")
        .attr("x", x(+label))
        .attr("y", 847)
        .attr("text-anchor", "middle")
        .style("font-size", "32px")
        .text(label);
});

// Y tick labels: 10 with superscript exponent
yTickExponents.forEach(e => {
    const ty = y(Math.pow(10, e));
    svg.append("text")
        .attr("x", 147)
        .attr("y", ty + 17)
        .attr("text-anchor", "end")
        .style("font-size", "32px")
        .text("10");
    svg.append("text")
        .attr("x", 147)
        .attr("y", ty - 3)
        .style("font-size", "23px")
        .text("\u2212" + Math.abs(e));
});

// X axis title
const xTitle = svg.append("text")
    .attr("x", 525)
    .attr("y", 912)
    .style("font-size", "37px");
xTitle.append("tspan").text("LET [keV/ ");
xTitle.append("tspan").style("font-style", "italic").text("\u03bc");
xTitle.append("tspan").text(" m\u2212water]");
fitText(xTitle, 406);

// Y axis title (rotated)
const yTitle = svg.append("text")
    .attr("transform", "translate(78,673) rotate(-90)")
    .style("font-size", "41px");
yTitle.append("tspan").text("Flux [(keV/ ");
yTitle.append("tspan").style("font-style", "italic").text("\u03bc");
yTitle.append("tspan").text(" m cm");
yTitle.append("tspan").attr("dy", -27).style("font-size", "26px").text("2");
yTitle.append("tspan").attr("dy", 27).text(" PIC)");
yTitle.append("tspan").attr("dy", -27).style("font-size", "26px").text("\u22121");
yTitle.append("tspan").attr("dy", 27).text("]");
fitText(yTitle, 498);

// Legend
const legend = svg.append("g");
legend.append("rect")
    .attr("x", 782)
    .attr("y", 102)
    .attr("width", 417)
    .attr("height", 96)
    .attr("fill", "#fff")
    .attr("stroke", "#000")
    .attr("stroke-width", 2);

legend.append("path")
    .attr("transform", "translate(832,131)")
    .attr("d", "M-8.5,0H8.5M0,-8.5V8.5")
    .attr("stroke", blue)
    .attr("stroke-width", 1.4);

legend.append("circle")
    .attr("cx", 830)
    .attr("cy", 175)
    .attr("r", 8)
    .attr("fill", "none")
    .attr("stroke", red)
    .attr("stroke-width", 1.4);

const legendWidths = [305, 301];
seriesNames.forEach((name, i) => {
    const t = legend.append("text")
        .attr("x", 885.5)
        .attr("y", 143 + i * 42)
        .attr("xml:space", "preserve")
        .style("white-space", "pre")
        .style("font-size", "34px")
        .text(name);
    fitText(t, legendWidths[i]);
});
</script>
</body>
</html>
